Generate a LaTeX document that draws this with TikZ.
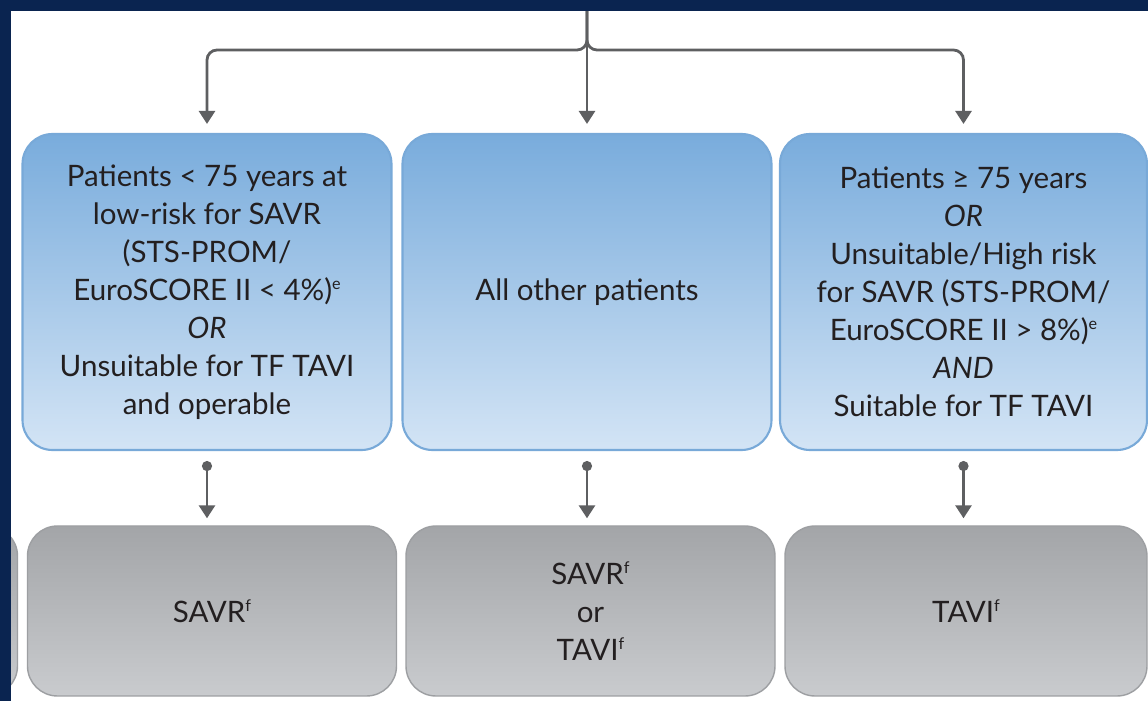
\documentclass[tikz,border=0pt]{standalone}
\usepackage{fontspec}
\setmainfont{Lato}
\usepackage{xcolor}
\usetikzlibrary{calc}
\usetikzlibrary{arrows.meta}

\definecolor{navyband}{HTML}{0A2450}
\definecolor{bluetop}{HTML}{79ACDC}
\definecolor{bluebot}{HTML}{D3E4F5}
\definecolor{blueedge}{HTML}{78A9D8}
\definecolor{greytop}{HTML}{A3A5A8}
\definecolor{greybot}{HTML}{C9CBCE}
\definecolor{greyedge}{HTML}{9D9FA2}
\definecolor{linkgrey}{HTML}{5E5F61}
\definecolor{inkdark}{HTML}{231F20}

% small raised footnote letter
\newcommand{\fnmark}[1]{\raisebox{0.75ex}{\fontsize{4.6}{5}\selectfont #1}}

\begin{document}
\begin{tikzpicture}[
    pgroup/.style={draw=blueedge, line width=0.6pt, top color=bluetop, bottom color=bluebot,
      rounded corners=0.3cm, minimum width=3.69cm, minimum height=3.16cm, inner sep=0pt,
      align=center, text=inkdark, font=\fontsize{8.4}{10.8}\selectfont},
    ptreat/.style={draw=greyedge, line width=0.4pt, top color=greytop, bottom color=greybot,
      rounded corners=0.3cm, minimum width=3.69cm, minimum height=1.70cm, inner sep=0pt,
      align=center, text=inkdark, font=\fontsize{8.4}{10.8}\selectfont},
    link/.style={draw=linkgrey, line width=0.8pt, -{Triangle[width=0.16cm,length=0.13cm]}},
  ]
        \def\W{11.48}
        \def\H{7.01}

        \useasboundingbox (0,0) rectangle (\W,\H);
        \clip (0,0) rectangle (\W,\H);
        \fill[white] (0,0) rectangle (\W,\H);

        % patient groups
        \node[pgroup] (low) at (2.07,4.09) {Patients < 75 years at\\low-risk for SAVR\\(STS-PROM/\\EuroSCORE II < 4\%)\fnmark{e}\\\textit{OR}\\Unsuitable for TF TAVI\\and operable};
        \node[pgroup] (other) at (5.87,4.09) {All other patients};
        \node[pgroup, minimum width=3.67cm] (high) at (9.635,4.09) {Patients ≥ 75 years\\\textit{OR}\\Unsuitable/High risk\\for SAVR (STS-PROM/\\EuroSCORE II > 8\%)\fnmark{e}\\\textit{AND}\\Suitable for TF TAVI};

        % treatments
        \node[ptreat] (prev) at (-1.67,0.90) {};
        \node[ptreat] (savr) at (2.12,0.90) {SAVR\fnmark{f}};
        \node[ptreat] (either) at (5.905,0.90) {SAVR\fnmark{f}\\or\\TAVI\fnmark{f}};
        \node[ptreat, minimum width=3.62cm] (tavi) at (9.66,0.90) {TAVI\fnmark{f}};

        \coordinate (top) at (5.87,6.95);
        \coordinate (hub) at (5.87,6.51);

        \draw[link, rounded corners=0.1cm, shorten >=0.09cm] (top) -- (hub) -| (low.north);
        \draw[link, rounded corners=0.1cm, shorten >=0.09cm] (top) -- (hub) -| (high.north);
        \draw[link, shorten >=0.09cm] (top) -- (other.north);

        \foreach \g/\t in {low/savr, other/either, high/tavi}
          \draw[link, {Circle[length=0.1cm]}-{Triangle[width=0.16cm,length=0.13cm]},
                shorten <=0.1cm, shorten >=0.07cm] (\g.south) -- (\g.south |- \t.north);

        \fill[navyband] (0,6.90) rectangle (\W,\H);
        \fill[navyband] (0,0) rectangle (0.11,\H);
\end{tikzpicture}
\end{document}
